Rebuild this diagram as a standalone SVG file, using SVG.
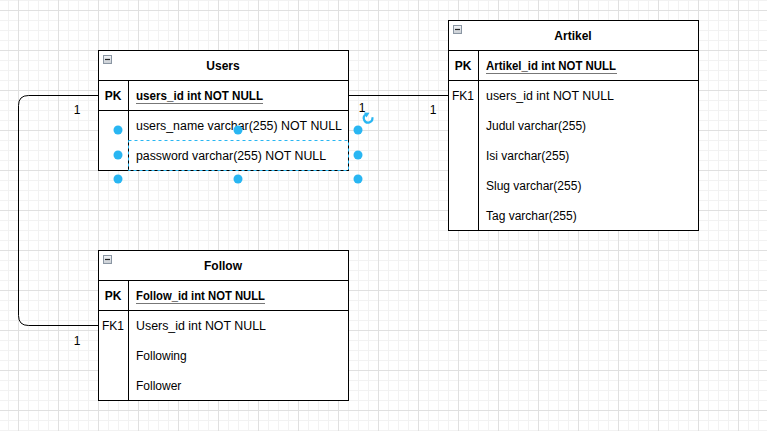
<svg xmlns="http://www.w3.org/2000/svg" width="767" height="431" viewBox="0 0 767 431">
<defs>
<pattern id="minor" width="10" height="10" patternUnits="userSpaceOnUse" x="8" y="0">
<path d="M0.5,0 V10 M0,0.5 H10" stroke="#f2f2f2" stroke-width="1" fill="none"/>
</pattern>
<pattern id="major" width="40" height="40" patternUnits="userSpaceOnUse" x="18" y="10">
<path d="M0.5,0 V40 M0,0.5 H40" stroke="#e0e0e0" stroke-width="1" fill="none"/>
</pattern>
<linearGradient id="btn" x1="0" y1="0" x2="0" y2="1">
<stop offset="0" stop-color="#f4f6f8"/>
<stop offset="1" stop-color="#c8cdd3"/>
</linearGradient>
</defs>
<style>
.box{fill:#ffffff;stroke:#000;stroke-width:1}
.ln{stroke:#000;stroke-width:1;fill:none}
.hd{font-family:"Liberation Sans",Arial,sans-serif;font-size:12px;font-weight:bold;text-anchor:middle;fill:#000}
.pk{font-family:"Liberation Sans",Arial,sans-serif;font-size:12px;font-weight:bold;text-anchor:middle;fill:#000}
.fk{font-family:"Liberation Sans",Arial,sans-serif;font-size:12px;text-anchor:middle;fill:#000}
.pf{font-family:"Liberation Sans",Arial,sans-serif;font-size:12px;font-weight:bold;fill:#000}
.f{font-family:"Liberation Sans",Arial,sans-serif;font-size:12px;fill:#000}
.ul{stroke:#777;stroke-width:1}
.lbl{font-family:"Liberation Sans",Arial,sans-serif;font-size:12px;fill:#000;text-anchor:middle}
.btn{fill:url(#btn);stroke:#8a96a3;stroke-width:1}
.btnm{stroke:#222;stroke-width:1.2}
.h{fill:#29b6f2}
</style>
<rect width="767" height="431" fill="#ffffff"/>
<rect width="767" height="431" fill="url(#minor)"/>
<rect width="767" height="431" fill="url(#major)"/>

<g id="connectors">
<path class="ln" d="M348,95.5 H448"/>
<path class="ln" d="M98,95.5 H28.5 Q18.5,95.5 18.5,105.5 V315.5 Q18.5,325.5 28.5,325.5 H98"/>
<text class="lbl" x="362" y="112">1</text>
<text class="lbl" x="433" y="114">1</text>
<text class="lbl" x="77" y="114">1</text>
<text class="lbl" x="77" y="345">1</text>
</g>

<g id="users">
<rect class="box" x="98.5" y="50.5" width="250" height="120"/>
<path class="ln" d="M98.5,80.5 H348.5 M98.5,110.5 H348.5 M128.5,80.5 V170.5"/>
<rect class="btn" x="103.5" y="55.5" width="8" height="8"/>
<path class="btnm" d="M105,59.5 H110"/>
<text class="hd" x="223" y="70">Users</text>
<text class="pk" x="113" y="100">PK</text>
<text class="pf" x="136" y="100" textLength="127" lengthAdjust="spacingAndGlyphs">users_id int NOT NULL</text>
<path class="ul" d="M136,103.5 H263"/>
<text class="f" x="136" y="130" textLength="206" lengthAdjust="spacingAndGlyphs">users_name varchar(255) NOT NULL</text>
<text class="f" x="136" y="160" textLength="190" lengthAdjust="spacingAndGlyphs">password varchar(255) NOT NULL</text>
</g>

<g id="artikel">
<rect class="box" x="448.5" y="20.5" width="250" height="210"/>
<path class="ln" d="M448.5,50.5 H698.5 M448.5,80.5 H698.5 M478.5,50.5 V230.5"/>
<rect class="btn" x="453.5" y="25.5" width="8" height="8"/>
<path class="btnm" d="M455,29.5 H460"/>
<text class="hd" x="573" y="40">Artikel</text>
<text class="pk" x="463" y="70">PK</text>
<text class="pf" x="486" y="70" textLength="130" lengthAdjust="spacingAndGlyphs">Artikel_id int NOT NULL</text>
<path class="ul" d="M486,73.5 H617"/>
<text class="fk" x="463" y="100">FK1</text>
<text class="f" x="486" y="100" textLength="128" lengthAdjust="spacingAndGlyphs">users_id int NOT NULL</text>
<text class="f" x="486" y="130">Judul varchar(255)</text>
<text class="f" x="486" y="160">Isi varchar(255)</text>
<text class="f" x="486" y="190">Slug varchar(255)</text>
<text class="f" x="486" y="220">Tag varchar(255)</text>
</g>

<g id="follow">
<rect class="box" x="98.5" y="250.5" width="250" height="150"/>
<path class="ln" d="M98.5,280.5 H348.5 M98.5,310.5 H348.5 M128.5,280.5 V400.5"/>
<rect class="btn" x="103.5" y="255.5" width="8" height="8"/>
<path class="btnm" d="M105,259.5 H110"/>
<text class="hd" x="223" y="270">Follow</text>
<text class="pk" x="113" y="300">PK</text>
<text class="pf" x="136" y="300" textLength="129" lengthAdjust="spacingAndGlyphs">Follow_id int NOT NULL</text>
<path class="ul" d="M136,303.5 H265"/>
<text class="fk" x="113" y="330">FK1</text>
<text class="f" x="136" y="330" textLength="130" lengthAdjust="spacingAndGlyphs">Users_id int NOT NULL</text>
<text class="f" x="136" y="360">Following</text>
<text class="f" x="136" y="390">Follower</text>
</g>

<g id="selection">
<rect x="128.5" y="140.5" width="220" height="30" fill="none" stroke="#29b6f2" stroke-width="1" stroke-dasharray="3,3"/>
<circle class="h" cx="118" cy="130" r="4.5"/>
<circle class="h" cx="238" cy="130" r="4.5"/>
<circle class="h" cx="358" cy="130" r="4.5"/>
<circle class="h" cx="118" cy="155" r="4.5"/>
<circle class="h" cx="358" cy="155" r="4.5"/>
<circle class="h" cx="118" cy="179" r="4.5"/>
<circle class="h" cx="238" cy="179" r="4.5"/>
<circle class="h" cx="358" cy="179" r="4.5"/>
<path d="M366,114.5 A4.3,4.3 0 1 0 372.3,117.3" fill="none" stroke="#29b6f2" stroke-width="2.2"/>
<path d="M364,112.5 L369.5,112.8 L366.5,117.5 Z" fill="#29b6f2"/>
</g>
</svg>
